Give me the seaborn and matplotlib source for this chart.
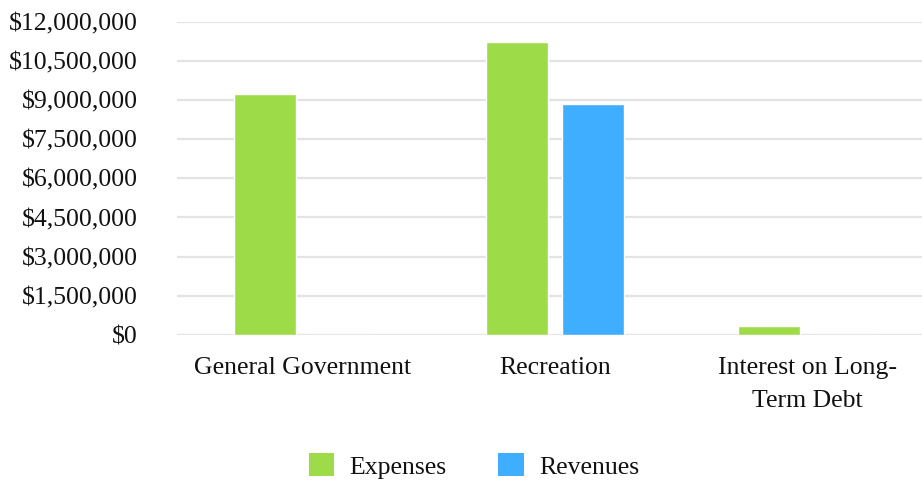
import matplotlib
matplotlib.use("Agg")
import matplotlib.pyplot as plt
import seaborn as sns
import pandas as pd
from matplotlib.ticker import FuncFormatter, MultipleLocator
from matplotlib.patches import Patch

categories = ["General Government", "Recreation", "Interest on Long-\nTerm Debt"]
expenses = [9210000, 11200000, 340000]
revenues = [0, 8830000, 0]
series = ["Expenses", "Revenues"]
colors = ["#9DDB48", "#40AEFF"]

df = pd.DataFrame({
    "category": categories * 2,
    "value": expenses + revenues,
    "series": [series[0]] * 3 + [series[1]] * 3,
})

sns.set_theme(style="white")
plt.rcParams["font.family"] = ["Liberation Serif", "DejaVu Serif"]
FS = 18.5

fig = plt.figure(figsize=(9.22, 4.8), dpi=100)
ax = fig.add_axes([177 / 922, 1 - 335 / 480, 756 / 922, (335 - 21.5) / 480])

sns.barplot(data=df, x="category", y="value", hue="series", palette=colors,
            width=0.603, gap=0.184, ax=ax, legend=False, saturation=1)

ax.set_ylim(0, 12000000)
ax.set_xlim(-0.5, 2.5)
ax.yaxis.set_major_locator(MultipleLocator(1500000))
ax.yaxis.set_major_formatter(FuncFormatter(lambda v, p: f"${v:,.0f}"))
ax.grid(axis="y", color="#e3e3e3", linewidth=1.6)
ax.set_axisbelow(True)
for s in ax.spines.values():
    s.set_visible(False)
ax.set_xlabel("")
ax.set_ylabel("")
ax.tick_params(axis="y", length=0, pad=28, labelsize=FS, colors="#111111")
ax.tick_params(axis="x", length=0, pad=16, labelsize=FS, colors="#111111")
for t in ax.get_xticklabels():
    t.set_linespacing(1.65)

handles = [Patch(facecolor=c, edgecolor="none", label=s) for s, c in zip(series, colors)]
fig.legend(handles=handles, loc="center", bbox_to_anchor=(474 / 922, 1 - 466 / 480),
           ncol=2, frameon=False, fontsize=FS, handlelength=1.0, handleheight=1.0,
           handletextpad=0.6, columnspacing=2.0, labelcolor="#111111")

fig.savefig("out.png", dpi=100)
